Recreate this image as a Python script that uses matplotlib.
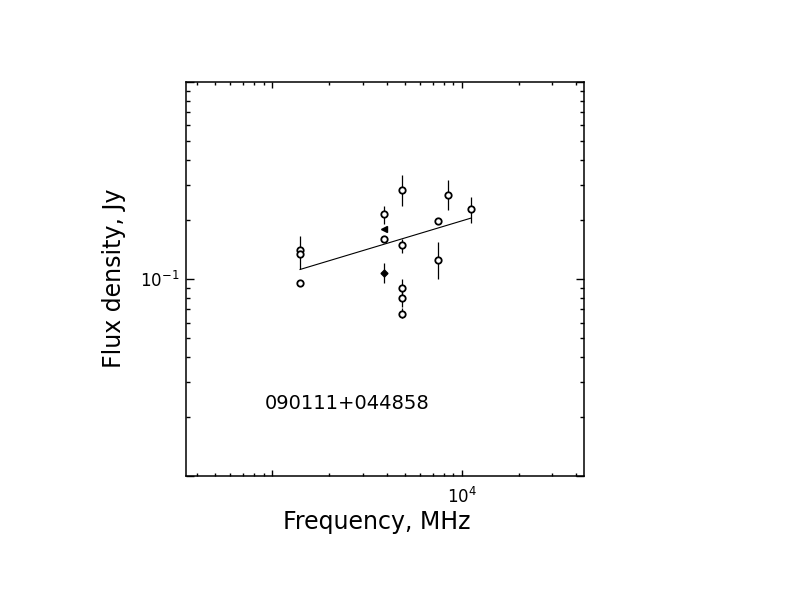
import numpy as np
import matplotlib
matplotlib.use("Agg")
import matplotlib.pyplot as plt
from matplotlib.ticker import FixedLocator, FixedFormatter, LogLocator, NullFormatter

plt.rcParams['font.family'] = ['DejaVu Sans']
plt.rcParams['mathtext.default'] = 'regular'

# source name
source = "090111+044858"

# open circles: freq (MHz), flux (Jy), lower / upper end of error bar (nan = no bar)
freq = [1400, 1400, 1400, 3900, 3900, 4850, 4850, 4850, 4850, 4850, 7500, 7500, 8400, 11100]
flux = [0.1395, 0.133, 0.0948, 0.213, 0.159, 0.282, 0.148, 0.090, 0.080, 0.0667, 0.197, 0.124, 0.266, 0.2255]
err_lo = [0.1116, np.nan, 0.0925, 0.189, np.nan, 0.234, 0.1355, 0.082, 0.072, 0.063, np.nan, 0.0993, 0.223, 0.193]
err_hi = [0.165, np.nan, 0.0975, 0.234, np.nan, 0.337, 0.159, 0.0993, 0.087, 0.071, np.nan, 0.154, 0.317, 0.261]

# filled diamond
dia_freq = [3900]
dia_flux = [0.107]
dia_lo = [0.0954]
dia_hi = [0.1205]

# filled triangle
tri_freq = [3900]
tri_flux = [0.179]

# fitted power law, end points
fit_freq = [1400, 11100]
fit_flux = [0.1116, 0.203]

fig = plt.figure(figsize=(7.92, 6.12), dpi=100)
ax = fig.add_axes([0.2348, 0.2222, 0.5025, 0.6443])

f = np.array(freq, dtype=float)
s = np.array(flux, dtype=float)
lo = np.nan_to_num(s - np.array(err_lo), nan=0.0)
hi = np.nan_to_num(np.array(err_hi) - s, nan=0.0)
ax.errorbar(f, s, yerr=[lo, hi], fmt='o', ms=4.6, mfc='white', mec='k', mew=1.3,
            ecolor='k', elinewidth=0.9, capsize=0, zorder=3)

d = np.array(dia_flux)
ax.errorbar(dia_freq, dia_flux, yerr=[d - np.array(dia_lo), np.array(dia_hi) - d],
            fmt='D', ms=3.5, mfc='k', mec='k', ecolor='k', elinewidth=0.9, capsize=0, zorder=3)
ax.plot(tri_freq, tri_flux, '<', ms=4, color='k', zorder=3)

# fit line
ax.plot(fit_freq, fit_flux, color='k', lw=0.8)

ax.set_xscale('log')
ax.set_yscale('log')
ax.set_xlim(350, 44000)
ax.set_ylim(0.01, 1.0)

ax.xaxis.set_major_locator(FixedLocator([1e3, 1e4]))
ax.xaxis.set_major_formatter(FixedFormatter(['', '$10^{4}$']))
ax.xaxis.set_minor_locator(LogLocator(base=10, subs=np.arange(2, 10)))
ax.xaxis.set_minor_formatter(NullFormatter())
ax.yaxis.set_major_locator(FixedLocator([0.01, 0.1, 1.0]))
ax.yaxis.set_major_formatter(FixedFormatter(['', '$10^{-1}$', '']))
ax.yaxis.set_minor_locator(LogLocator(base=10, subs=np.arange(2, 10)))
ax.yaxis.set_minor_formatter(NullFormatter())

ax.tick_params(which='both', direction='in', top=True, right=True, width=1.0, labelsize=12)
ax.tick_params(axis='x', which='major', length=4, pad=8)
ax.tick_params(axis='x', which='minor', length=2.2)
ax.tick_params(axis='y', which='major', length=5.5, pad=5)
ax.tick_params(axis='y', which='minor', length=3)
for sp in ax.spines.values():
    sp.set_linewidth(1.1)

ax.text(0.1985, 0.185, source, transform=ax.transAxes, ha='left', va='center', fontsize=14)

fig.text(377 / 792, 1 - 522 / 612, 'Frequency, MHz', ha='center', va='center', fontsize=17)
fig.text(114 / 792, 1 - 278 / 612, 'Flux density, Jy', ha='center', va='center',
         rotation=90, fontsize=17)

fig.savefig('out.png', dpi=100)
